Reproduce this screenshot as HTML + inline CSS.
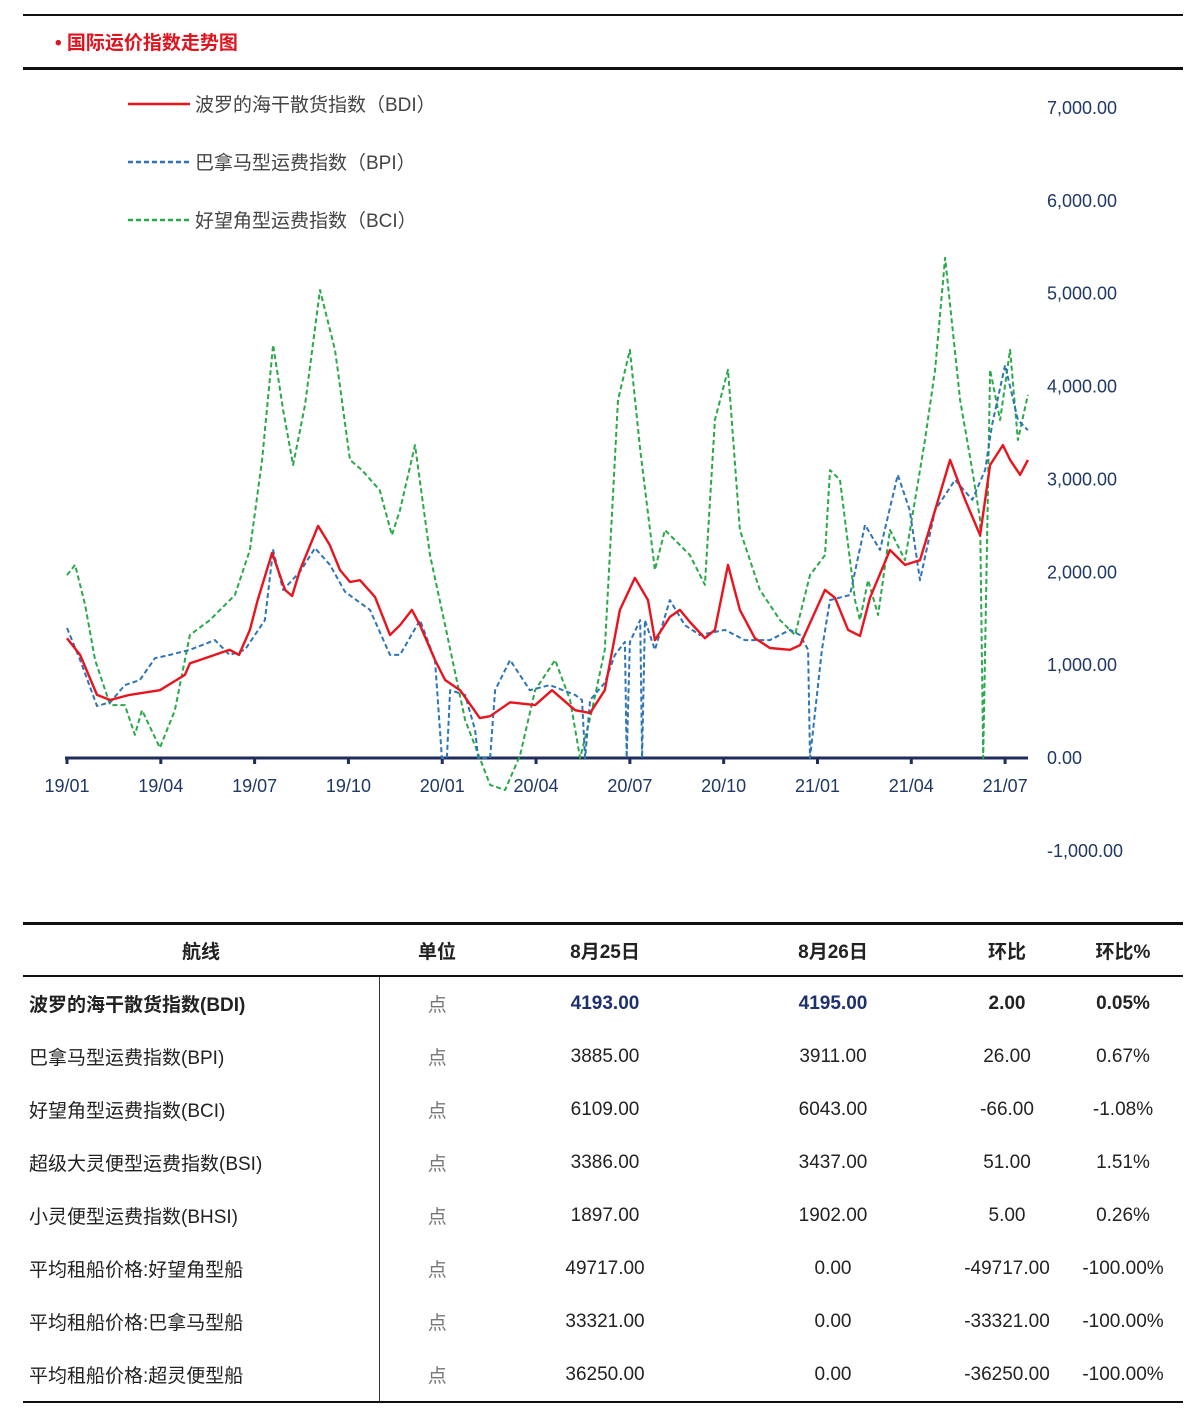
<!DOCTYPE html>
<html><head><meta charset="utf-8">
<style>
body{margin:0;background:#fff;width:1200px;height:1414px;position:relative;font-family:"Liberation Sans","Noto Sans CJK SC",sans-serif;overflow:hidden}
.hl{position:absolute;left:23px;width:1160px;background:#111}
table{position:absolute;left:23px;top:922px;width:1160px;border-collapse:collapse;font-size:19px;color:#222}
td,th{height:53px;padding:0;text-align:center}
th{font-weight:bold;font-size:19px;height:50px}
td.n{text-align:left;padding-left:6px}
td.u{color:#777;border-left:1.5px solid #333}
</style></head><body>
<div class="hl" style="top:14px;height:2px"></div>
<div style="position:absolute;left:55px;top:28px;font-size:19px;font-weight:bold;color:#e0141e">• 国际运价指数走势图</div>
<div class="hl" style="top:67px;height:3px"></div>
<svg id="chart" width="1200" height="900" style="position:absolute;left:0;top:0"></svg>
<table>
<tr style="border-top:3px solid #111;border-bottom:2px solid #111"><th style="width:356px">航线</th><th style="width:116px">单位</th><th style="width:220px">8月25日</th><th style="width:236px">8月26日</th><th style="width:112px">环比</th><th>环比%</th></tr>
<tr style="font-weight:bold"><td class="n">波罗的海干散货指数(BDI)</td><td class="u" style="font-weight:normal">点</td><td style="color:#1f3070">4193.00</td><td style="color:#1f3070">4195.00</td><td>2.00</td><td>0.05%</td></tr>
<tr><td class="n">巴拿马型运费指数(BPI)</td><td class="u">点</td><td>3885.00</td><td>3911.00</td><td>26.00</td><td>0.67%</td></tr>
<tr><td class="n">好望角型运费指数(BCI)</td><td class="u">点</td><td>6109.00</td><td>6043.00</td><td>-66.00</td><td>-1.08%</td></tr>
<tr><td class="n">超级大灵便型运费指数(BSI)</td><td class="u">点</td><td>3386.00</td><td>3437.00</td><td>51.00</td><td>1.51%</td></tr>
<tr><td class="n">小灵便型运费指数(BHSI)</td><td class="u">点</td><td>1897.00</td><td>1902.00</td><td>5.00</td><td>0.26%</td></tr>
<tr><td class="n">平均租船价格:好望角型船</td><td class="u">点</td><td>49717.00</td><td>0.00</td><td>-49717.00</td><td>-100.00%</td></tr>
<tr><td class="n">平均租船价格:巴拿马型船</td><td class="u">点</td><td>33321.00</td><td>0.00</td><td>-33321.00</td><td>-100.00%</td></tr>
<tr style="border-bottom:2px solid #111"><td class="n">平均租船价格:超灵便型船</td><td class="u">点</td><td>36250.00</td><td>0.00</td><td>-36250.00</td><td>-100.00%</td></tr>
</table>
<script>
const xTickLabels=["19/01","19/04","19/07","19/10","20/01","20/04","20/07","20/10","21/01","21/04","21/07"];
const yTicks=[7000,6000,5000,4000,3000,2000,1000,0,-1000];
const bdiMonths=[0,0.42,0.96,1.38,2.0,2.97,3.77,3.93,4.25,5.2,5.5,5.85,6.1,6.56,6.97,7.2,7.45,8.03,8.4,8.73,9.05,9.37,9.85,10.33,10.65,11.03,11.29,11.77,12.09,12.57,13.2,13.53,14.17,14.97,15.51,16.25,16.73,17.2,17.68,18.16,18.58,18.8,19.28,19.6,19.92,20.4,20.72,21.14,21.52,22.0,22.48,23.12,23.44,24.24,24.56,24.98,25.36,25.68,26.32,26.8,27.28,27.76,28.24,28.72,29.2,29.52,29.93,30.16,30.48,30.73];
const bdiValues=[1290,1110,680,625,680,730,895,1020,1055,1165,1110,1380,1700,2210,1810,1745,2025,2500,2295,2025,1895,1915,1735,1325,1430,1595,1430,1055,840,730,430,450,600,570,730,515,485,730,1595,1940,1700,1270,1520,1595,1465,1290,1380,2080,1595,1290,1185,1165,1215,1810,1725,1380,1315,1725,2240,2080,2130,2670,3210,2780,2400,3155,3370,3210,3050,3210];
const bpiMonths=[0,0.42,0.96,1.38,1.85,2.33,2.81,3.29,3.93,4.73,5.2,5.69,6.33,6.59,6.91,7.45,7.93,8.41,8.89,9.69,10.33,10.65,11.29,11.77,11.99,12.15,12.25,12.73,13.05,13.15,13.53,13.69,14.17,14.8,15.44,16.25,16.47,16.57,16.73,17.2,17.52,17.84,17.9,18.0,18.33,18.39,18.48,18.8,19.28,19.76,20.24,21.04,21.68,22.48,23.12,23.44,23.7,23.76,24.14,24.4,25.04,25.52,26.0,26.57,26.95,27.28,27.76,28.4,28.95,29.36,29.58,30.0,30.41,30.73];
const bpiValues=[1400,1055,560,600,785,840,1075,1110,1165,1270,1110,1165,1485,2240,1810,2005,2260,2080,1790,1595,1110,1110,1485,1055,0,0,730,680,300,0,0,730,1055,730,785,680,625,0,625,810,1110,1250,0,1250,1485,0,1485,1165,1700,1430,1325,1380,1270,1270,1380,1325,1165,0,1165,1700,1755,2510,2240,3050,2670,1915,2670,2995,2780,3100,3585,4230,3640,3530];
const bciMonths=[0,0.26,0.58,0.9,1.38,1.85,2.17,2.4,2.97,3.45,3.93,4.57,5.37,5.85,6.24,6.59,6.91,7.23,7.61,8.09,8.57,9.05,9.43,10.0,10.39,10.65,11.13,11.61,12.09,12.73,13.53,14.01,14.49,14.97,15.61,16.09,16.41,16.79,17.2,17.62,18.0,18.33,18.8,19.12,19.92,20.4,20.72,21.14,21.52,22.16,22.8,23.28,23.76,24.24,24.4,24.72,25.2,25.36,25.62,25.94,26.32,26.8,27.44,27.76,28.08,28.56,28.95,29.2,29.3,29.52,29.84,30.16,30.41,30.73];
const bciValues=[1970,2080,1650,1055,570,570,250,515,110,515,1325,1485,1755,2240,3210,4450,3750,3155,3800,5040,4395,3210,3100,2885,2400,2670,3370,2185,1430,410,-290,-345,30,730,1055,625,0,515,1165,3855,4395,3320,2025,2455,2185,1865,3640,4180,2455,1810,1485,1325,1970,2185,3100,2995,1700,1485,1915,1540,2455,2130,3425,4180,5385,3855,3100,2565,0,4180,3640,4395,3425,3910];

const NS="http://www.w3.org/2000/svg";
const svg=document.getElementById('chart');
const X0=67,PXM=31.27,Y0=758,PXV=0.09286;
function xs(m){return X0+m*PXM;}
function ys(v){return Y0-v*PXV;}
function mk(tag,attrs){const e=document.createElementNS(NS,tag);for(const k in attrs)e.setAttribute(k,attrs[k]);svg.appendChild(e);return e;}
yTicks.forEach(v=>{const t=mk('text',{x:1047,y:ys(v)+6,'font-size':18,fill:'#1f3864'});


t.textContent=(v<0?'-':'')+Math.abs(v).toLocaleString('en-US')+'.00';});
const ax=mk('line',{x1:65,x2:1028,y1:Y0,y2:Y0,stroke:'#1f2d5c','stroke-width':3});


xTickLabels.forEach((l,i)=>{const x=xs(i*3);
const tk=mk('line',{x1:x,x2:x,y1:Y0,y2:Y0+6,stroke:'#1f2d5c','stroke-width':3});


const t=mk('text',{x:x,y:792,'font-size':18,fill:'#1f3864','text-anchor':'middle'});


t.textContent=l;});
function series(ms,vs,color,dash,name,w){
const p=mk('polyline',{points:ms.map((m,i)=>xs(m).toFixed(1)+','+ys(vs[i]).toFixed(1)).join(' '),fill:'none',stroke:color,'stroke-width':w,'stroke-linejoin':'round'});
if(dash)p.setAttribute('stroke-dasharray',dash);

}
series(bciMonths,bciValues,'#2aa84a','5,3','bci-line',2);
series(bpiMonths,bpiValues,'#2e75b6','5,3','bpi-line',2);
series(bdiMonths,bdiValues,'#e8141e',null,'bdi-line',2.4);
const leg=[['波罗的海干散货指数（BDI）','#e8141e',null],['巴拿马型运费指数（BPI）','#2e75b6','5,3'],['好望角型运费指数（BCI）','#2aa84a','5,3']];
leg.forEach((l,i)=>{const y=104+i*58;
const ln=mk('line',{x1:128,x2:190,y1:y,y2:y,stroke:l[1],'stroke-width':2.4});
if(l[2])ln.setAttribute('stroke-dasharray',l[2]);


const t=mk('text',{x:195,y:y+7,'font-size':19,fill:'#444'});


t.textContent=l[0];});
</script>
</body></html>
